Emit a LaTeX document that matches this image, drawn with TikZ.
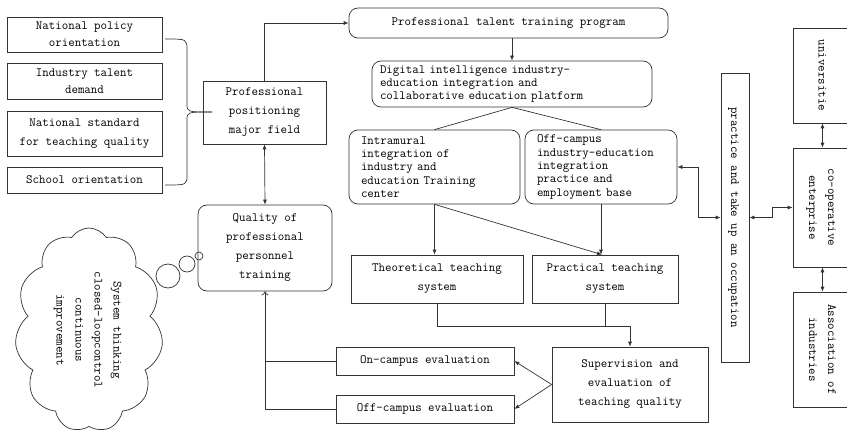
\documentclass[tikz,border=0pt]{standalone}
\usepackage{fontspec}
\usetikzlibrary{arrows.meta,shapes.symbols}
\newcommand{\vtext}[1]{\rotatebox{-90}{\begin{tabular}{@{}c@{}}#1\end{tabular}}}
\begin{document}
\begin{tikzpicture}[x=1pt, y={(0pt,-1pt)}, >={Latex[length=5pt,width=4pt]},
  every node/.style={font=\ttfamily\fontsize{12.6}{19}\selectfont},
  line/.style={draw=black!80, line width=0.7pt},
  box/.style={line, align=center, inner sep=0pt},
  rbox/.style={box, rounded corners=9pt},
  tight/.style={font=\ttfamily\fontsize{12.6}{13.3}\selectfont}]
\useasboundingbox (0,0) rectangle (847,436);
% inputs on the left
\node[box, minimum width=155pt, minimum height=35pt, font=\ttfamily\fontsize{12.6}{17}\selectfont] (pol) at (84.5,34.5) {National policy\\orientation};
\node[box, minimum width=155pt, minimum height=36pt, font=\ttfamily\fontsize{12.6}{17}\selectfont] (dem) at (84.5,81) {Industry talent\\demand};
\node[box, minimum width=155pt, minimum height=45pt] (std) at (84.5,133.5) {National standard\\for teaching quality};
\node[box, minimum width=155pt, minimum height=26pt] (sch) at (84.5,180) {School orientation};
\node[box, minimum width=123pt, minimum height=63pt] (pos) at (264.5,112.5) {Professional\\positioning\\major field};
\coordinate (brtip) at (212,112);
\draw[line] (165,39) .. controls (187,39) .. (187,50) -- (187,104) .. controls (187,112) .. (brtip);
\draw[line] (brtip) .. controls (187,112) .. (187,120) -- (187,175) .. controls (187,185) .. (165,185);
% middle column
\node[rbox, minimum width=319pt, minimum height=30pt] (prog) at (508.5,23) {Professional talent training program};
\node[rbox, tight, minimum width=280pt, minimum height=46pt, text width=264pt, align=left] (plat) at (512,84) {Digital intelligence industry-\\education integration and\\collaborative education platform};
\node[rbox, tight, minimum width=171pt, minimum height=74pt, text width=147pt, align=left] (intra) at (434.5,167) {Intramural\\integration of\\industry and\\education Training\\center};
\node[rbox, tight, minimum width=152pt, minimum height=74pt, text width=128pt, align=left] (offb) at (601,167) {Off-campus\\industry-education\\integration\\practice and\\employment base};
\node[box, minimum width=172pt, minimum height=48pt] (theo) at (437,279) {Theoretical teaching\\system};
\node[box, minimum width=146pt, minimum height=48pt] (prac) at (605,279) {Practical teaching\\system};
\node[box, minimum width=156pt, minimum height=75pt] (sup) at (630,384.5) {Supervision and\\evaluation of\\teaching quality};
\node[box, minimum width=178pt, minimum height=28pt] (onev) at (425,361) {On-campus evaluation};
\node[box, minimum width=178pt, minimum height=28pt] (offev) at (425,409) {Off-campus evaluation};
\node[rbox, minimum width=134pt, minimum height=86pt] (qual) at (265,248) {Quality of\\professional\\personnel\\training};
% thought cloud
\node[cloud, line, cloud puffs=11, cloud puff arc=115, cloud ignores aspect, minimum width=148pt, minimum height=204pt, inner sep=0pt] (cld) at (89,330) {\vtext{System thinking\\closed-loopcontrol\\continuous\\improvement}};
\node[circle, line, minimum size=24pt, inner sep=0pt] (b1) at (168,276) {};
\node[circle, line, minimum size=16pt, inner sep=0pt] (b2) at (187,264) {};
\node[circle, line, minimum size=8pt, inner sep=0pt] (b3) at (199,256) {};
% right side
\node[box, minimum width=28pt, minimum height=289pt] (occ) at (735,217.5) {\vtext{practice and take up an occupation}};
\node[box, minimum width=59pt, minimum height=95pt] (univ) at (822.5,75.5) {\vtext{universitie}};
\node[box, minimum width=59pt, minimum height=119pt] (coop) at (822.5,207.5) {\vtext{co-operative\\enterprise}};
\node[box, minimum width=59pt, minimum height=115pt] (assoc) at (822.5,349.5) {\vtext{Association of\\industries}};
% connectors
\draw[line, ->] (pos.north) |- (prog.west);
\draw[line, ->] (prog.south -| plat.north) -- (plat.north);
\draw[line] (plat.south) -- (intra.north);
\draw[line] (plat.south) -- (offb.north);
\draw[line, ->] (intra.south) -- (intra.south |- theo.north);
\draw[line, ->] (intra.south) -- ([xshift=-3pt]prac.north);
\draw[line, ->] (offb.south) -- (offb.south |- prac.north);
\draw[line, ->] (theo.south) -- ++(0,23) -| (sup.north);
\draw[line] (prac.south) -- ++(0,23);
\draw[line, ->] (sup.west) -- (onev.east);
\draw[line, ->] (sup.west) -- (offev.east);
\draw[line] (onev.west) -- (onev.west -| qual.south);
\draw[line, -{To[length=4pt,width=7pt]}] (offev.west) -| (qual.south);
\draw[line, <->] (pos.south) -- (qual.north);
\draw[line, <->] (offb.east) -- ++(21,0) |- (occ.west);
\draw[line, <->] (occ.east) -- ++(23,0) |- (coop.west);
\draw[line, <->] (univ.south) -- (coop.north);
\draw[line, <->] (coop.south) -- (assoc.north);
\end{tikzpicture}
\end{document}
